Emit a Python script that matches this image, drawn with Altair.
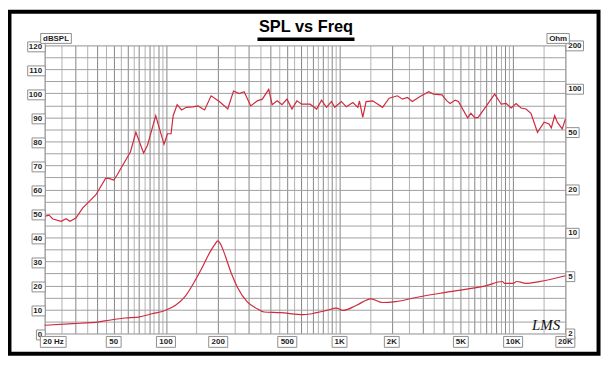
import altair as alt
import pandas as pd

# ---- data ----
spl_freq = [20, 21.2, 22.3, 24.9, 26.6, 28.0, 30.3, 33.1, 39.4, 44.9,
            46.9, 50.1, 52.3, 57.1, 62.4, 67.1, 74.3, 78.3, 84.7, 87.3,
            97.5, 102, 107, 110, 116, 123, 131, 143, 153, 167,
            182, 203, 227, 245, 264, 282, 308, 336, 359, 391,
            409, 437, 466, 498, 532, 568, 606, 676, 738, 788,
            841, 898, 938, 1025, 1094, 1194, 1275, 1302, 1361, 1422,
            1552, 1770, 1930, 2156, 2302, 2458, 2625, 2926, 3264, 3485,
            3890, 4154, 4338, 4633, 4837, 5470, 5712, 6022, 6288, 7016,
            7828, 8548, 9126, 9746, 10404, 11110, 11864, 12668, 13814, 15086,
            16108, 16600, 17362, 17964, 19180, 20000]
spl_db = [48.8, 49.3, 47.7, 46.7, 47.8, 46.7, 48.1, 52.2, 57.7, 64.6,
          64.6, 63.9, 66.0, 70.8, 75.6, 83.8, 75.2, 78.4, 87.3, 90.7,
          78.8, 83.2, 83.2, 90.7, 95.3, 93.1, 94.2, 94.4, 94.8, 93.1,
          99.0, 96.6, 93.5, 101.0, 99.9, 100.7, 94.8, 96.9, 97.6, 101.7,
          95.3, 96.9, 95.3, 97.6, 93.5, 96.9, 95.5, 95.5, 93.5, 97.2,
          94.2, 96.6, 94.2, 96.6, 94.4, 96.2, 94.2, 96.9, 90.0, 96.6,
          96.9, 94.2, 98.0, 99.0, 97.6, 98.3, 96.6, 98.8, 100.7, 99.7,
          99.4, 96.9, 95.8, 97.2, 96.6, 89.8, 91.7, 89.8, 90.0, 94.8,
          99.7, 95.5, 95.8, 93.9, 95.8, 93.9, 93.5, 91.7, 83.8, 88.0,
          87.3, 85.6, 90.7, 88.0, 85.2, 89.3]

imp_freq = [20, 29, 41.2, 46.9, 58.4, 69.6, 82.8, 98.7, 113, 128,
            140, 160, 180, 190, 199, 208, 217, 237, 258, 295,
            336, 367, 456, 620, 738, 841, 959, 1048, 1247, 1518,
            1770, 2108, 2802, 4338, 7021, 8660, 8926, 9956, 10488, 11864,
            14126, 20000]
imp_ohm = [2.28, 2.34, 2.41, 2.47, 2.56, 2.60, 2.74, 2.89, 3.13, 3.57,
           4.2, 5.6, 7.4, 8.2, 8.8, 8.2, 7.2, 5.3, 4.19, 3.30,
           2.97, 2.82, 2.79, 2.70, 2.79, 2.89, 3.00, 2.89, 3.13, 3.48,
           3.28, 3.33, 3.57, 3.90, 4.30, 4.59, 4.46, 4.46, 4.59, 4.46,
           4.58, 5.03]

db_ticks = list(range(0, 121, 10))
ohm_ticks = [2, 5, 10, 20, 50, 100, 200]
freq_ticks = [20, 50, 100, 200, 500, 1000, 2000, 5000, 10000, 20000]
freq_labels = ["20 Hz", "50", "100", "200", "500", "1K", "2K", "5K", "10K", "20K"]
title_text = "SPL vs Freq"

# ---- style ----
W, H = 526, 291
FONT = "Liberation Sans"
RED = "#d02a3e"
BOX = "#8f8f8f"
INK = "#1e1e1e"

grid_freqs = [b * k / 2 for b in (10, 100, 1000, 10000) for k in range(2, 20)
              if 20 <= b * k / 2 <= 20000]
grid_db = list(range(0, 121, 5))


def rect_path(x0, x1, y0, y1):
    return f"M{x0},{y0}H{x1}V{y1}H{x0}Z"


xscale = alt.Scale(type="log", domain=[20, 20000], nice=False)
xaxis = alt.Axis(values=grid_freqs, grid=True, labels=False, ticks=False,
                 domain=False, title=None, gridWidth=1,
                 gridColor={"condition": {"test": "(datum.value / pow(10, floor(log(datum.value) / LN10 + 1e-9))) % 1 == 0",
                                          "value": "#868686"},
                            "value": "#b2b2b2"})
db_scale = alt.Scale(domain=[0, 120], nice=False, zero=False)
ohm_scale = alt.Scale(type="log", domain=[2, 200], nice=False)


def X(field):
    return alt.X(f"{field}:Q", scale=xscale, axis=xaxis)


spl_df = pd.DataFrame({"f": spl_freq, "db": spl_db})
imp_df = pd.DataFrame({"f": imp_freq, "z": imp_ohm})

spl_line = alt.Chart(spl_df).mark_line(color=RED, strokeWidth=1.2).encode(
    x=X("f"),
    y=alt.Y("db:Q", scale=db_scale,
            axis=alt.Axis(values=grid_db, grid=True, labels=False, ticks=False,
                          domain=False, title=None, gridColor="#a0a0a0", gridWidth=1)),
)
imp_line = alt.Chart(imp_df).mark_line(color=RED, strokeWidth=1.2, interpolate="monotone").encode(
    x=X("f"),
    y=alt.Y("z:Q", scale=ohm_scale, axis=None),
)

box_mark = dict(size=4, filled=True, fill="white", fillOpacity=1, stroke=BOX,
                strokeWidth=1, opacity=1)
text_mark = dict(font=FONT, fontSize=8, fontWeight="bold", color=INK, baseline="middle")

# left axis labels
left_df = pd.DataFrame({
    "v": db_ticks,
    "t": [str(v) for v in db_ticks],
})
left_df["p"] = [rect_path(round(0.6 - (4.4 * len(t) + 4.5), 1), 0.6, -3.5, 6.5) for t in left_df["t"]]
left_boxes = alt.Chart(left_df).mark_point(**box_mark).encode(
    x=alt.value(0), y=alt.Y("v:Q", scale=db_scale, axis=None),
    shape=alt.Shape("p:N", scale=None))
left_text = alt.Chart(left_df).mark_text(align="right", dy=1.5, **text_mark).encode(
    x=alt.value(-2.6), y=alt.Y("v:Q", scale=db_scale, axis=None), text="t:N")

# right axis labels
right_df = pd.DataFrame({"v": ohm_ticks, "t": [str(v) for v in ohm_ticks]})
right_df["p"] = [rect_path(0.6, round(0.6 + 4.4 * len(t) + 4.5, 1), -4.5, 5.5) for t in right_df["t"]]
right_boxes = alt.Chart(right_df).mark_point(**box_mark).encode(
    x=alt.value(W), y=alt.Y("v:Q", scale=ohm_scale, axis=None),
    shape=alt.Shape("p:N", scale=None))
right_text = alt.Chart(right_df).mark_text(align="left", dy=0.5, **text_mark).encode(
    x=alt.value(W + 2.9), y=alt.Y("v:Q", scale=ohm_scale, axis=None), text="t:N")

# bottom axis labels
bot_df = pd.DataFrame({"f": freq_ticks, "t": freq_labels})
paths = []
for i, t in enumerate(freq_labels):
    if i == 0:
        paths.append(rect_path(-4.3, 21.7, -5.5, 5.5))
    else:
        w = 4.2 * len(t) + 6.5
        paths.append(rect_path(round(-w / 2, 1), round(w / 2, 1), -5.5, 5.5))
bot_df["p"] = paths
bot_boxes = alt.Chart(bot_df).mark_point(**box_mark).encode(
    x=X("f"), y=alt.value(H + 8.5), shape=alt.Shape("p:N", scale=None))
bot_text = alt.Chart(bot_df.iloc[1:]).mark_text(align="center", **text_mark).encode(
    x=X("f"), y=alt.value(H + 8.5), text="t:N")
bot_text0 = alt.Chart(bot_df.iloc[:1]).mark_text(align="left", dx=-1.6, **text_mark).encode(
    x=X("f"), y=alt.value(H + 8.5), text="t:N")

# unit boxes
one = pd.DataFrame({"u": ["dBSPL", "Ohm"]})
unit_db_box = alt.Chart(one.iloc[:1]).mark_point(shape=rect_path(-4, 27, -12, -2), **box_mark).encode(
    x=alt.value(0), y=alt.value(0))
unit_db_text = alt.Chart(one.iloc[:1]).mark_text(align="center", **text_mark).encode(
    x=alt.value(11.5), y=alt.value(-6.8), text="u:N")
unit_ohm_box = alt.Chart(one.iloc[1:]).mark_point(shape=rect_path(-11.3, 11.3, -12, -2), **box_mark).encode(
    x=alt.value(518.7), y=alt.value(0))
unit_ohm_text = alt.Chart(one.iloc[1:]).mark_text(align="center", **text_mark).encode(
    x=alt.value(518.7), y=alt.value(-6.8), text="u:N")

# title, underline, signature, frame
title_df = pd.DataFrame({"s": [title_text]})
title = alt.Chart(title_df).mark_text(font=FONT, fontSize=16.5, fontWeight="bold", color="black",
                                      align="center", baseline="alphabetic").encode(
    x=alt.value(264), y=alt.value(-14), text="s:N")
deco = pd.DataFrame({"s": ["LMS"]})
underline = alt.Chart(deco).mark_rule(color="black", strokeWidth=3.5).encode(
    x=alt.value(215), x2=alt.value(313), y=alt.value(-6.3))
frame = alt.Chart(deco).mark_rect(fillOpacity=0, stroke="black", strokeWidth=4).encode(
    x=alt.value(-35.5), x2=alt.value(559.5), y=alt.value(-34), y2=alt.value(311.5))
lms = alt.Chart(deco).mark_text(font="Liberation Serif", fontStyle="italic", fontSize=15,
                                color="#111111", align="center", baseline="alphabetic").encode(
    x=alt.value(506.5), y=alt.value(287), text="s:N")

chart = alt.layer(
    spl_line, imp_line,
    left_boxes, left_text,
    bot_boxes, bot_text, bot_text0,
    right_boxes, right_text,
    unit_db_box, unit_db_text, unit_ohm_box, unit_ohm_text,
    title, underline, lms, frame,
).resolve_scale(y="independent").properties(
    width=W, height=H,
    autosize="none",
    padding={"left": 37, "top": 36, "right": 37, "bottom": 22},
).configure_view(stroke="#1a1a1a", strokeWidth=1).configure(background="white")

chart.save("out.html", embed_options={"renderer": "svg", "actions": False})
